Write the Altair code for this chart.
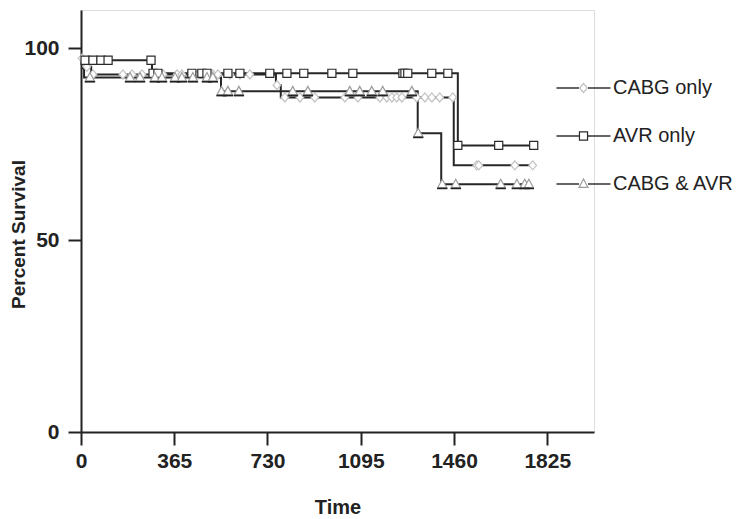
import altair as alt
import pandas as pd

ORDER = ["CABG only", "AVR only", "CABG & AVR"]
LINE_KEYS = ["L1", "L2", "L3"]

# Kaplan-Meier step curves: time of each step (days) and survival (%) from it
cabg_t = [0, 20, 40, 763, 782, 1459, 1768]
cabg_s = [97.4, 95.2, 93.2, 90.4, 87.2, 69.5, 69.5]
avr_t = [0, 278, 1475, 1784]
avr_s = [96.9, 93.5, 74.7, 74.7]
both_t = [0, 12, 548, 1318, 1410, 1760]
both_s = [94.8, 92.4, 88.8, 77.9, 64.6, 64.6]

# censored observations (days)
cabg_cens = [4, 23, 47, 164, 200, 239, 282, 321, 376, 395, 458, 493, 516, 536,
             583, 622, 661, 767, 798, 857, 915, 1033, 1084, 1170, 1197, 1217,
             1236, 1256, 1314, 1346, 1373, 1404, 1455, 1549, 1557, 1698, 1768]
avr_cens = [16, 47, 78, 106, 274, 282, 301, 434, 473, 493, 575, 622, 739, 806,
            872, 982, 1064, 1260, 1268, 1279, 1373, 1436, 1475, 1635, 1772]
both_cens = [35, 192, 231, 289, 317, 368, 395, 438, 493, 516, 550, 575, 618,
             829, 888, 1052, 1091, 1138, 1181, 1295, 1320, 1414, 1467, 1643,
             1706, 1737, 1753]

x_ticks = [0, 365, 730, 1095, 1460, 1825]
y_ticks = [0, 50, 100]

curves = {
    "CABG only": (cabg_t, cabg_s, cabg_cens),
    "AVR only": (avr_t, avr_s, avr_cens),
    "CABG & AVR": (both_t, both_s, both_cens),
}


def level(ts, ss, t):
    v = ss[0]
    for ti, si in zip(ts, ss):
        if ti <= t:
            v = si
    return v


line_rows, cens_rows = [], []
for key, (name, (ts, ss, cs)) in zip(LINE_KEYS, curves.items()):
    for ti, si in zip(ts, ss):
        line_rows.append({"series": name, "key": key, "t": ti, "s": si})
    for c in cs:
        cens_rows.append({"series": name, "t": c, "s": level(ts, ss, c)})
line_df = pd.DataFrame(line_rows)
cens_df = pd.DataFrame(cens_rows)
tri_df = cens_df[cens_df.series == "CABG & AVR"]

DIAMOND = "M0,-1L0.85,0L0,1L-0.85,0Z"
SQUARE = "M-0.9,-0.9H0.9V0.9H-0.9Z"
TRIANGLE = "M0,-1.1L1,0.75L-1,0.75Z"
BAR = "M-1.15,0.95H1.15"
LEG_LINE = "M-6,0H-1.0M1.0,0H6"

FONT = "Liberation Sans"
INK = "#222222"

LEG_X, LEG_Y = 492.5, 68
common_leg = dict(orient="none", legendX=LEG_X, legendY=LEG_Y, title=None,
                  symbolSize=81, labelFont=FONT, labelFontSize=20,
                  labelColor=INK, labelOffset=19.5, rowPadding=28, padding=0,
                  symbolOffset=0)

xenc = alt.X("t:Q", title="Time",
             scale=alt.Scale(domain=[0, 2008], nice=False, zero=False),
             axis=alt.Axis(values=x_ticks, format="d", grid=False,
                           labelFlush=False,
                           domainColor=INK, domainWidth=2, tickColor=INK,
                           tickWidth=2, tickSize=13, labelFont=FONT,
                           labelFontSize=21, labelFontWeight="bold",
                           labelColor=INK, labelPadding=5, titleFont=FONT,
                           titleFontSize=20, titleFontWeight="bold",
                           titleColor=INK, titlePadding=26))
yenc = alt.Y("s:Q", title="Percent Survival",
             scale=alt.Scale(domain=[0, 110], nice=False),
             axis=alt.Axis(values=y_ticks, format="d", grid=False,
                           labelFlush=False,
                           domainColor=INK, domainWidth=2, tickColor=INK,
                           tickWidth=2, tickSize=13, labelFont=FONT,
                           labelFontSize=21, labelFontWeight="bold",
                           labelColor=INK, labelPadding=9, titleFont=FONT,
                           titleFontSize=19, titleFontWeight="bold",
                           titleColor=INK, titleX=-63, titleY=224,
                           titleAngle=270, titleBaseline="middle",
                           titleAlign="center"))

lines = alt.Chart(line_df).mark_line(
    interpolate="step-after", color="#262626", strokeWidth=2
).encode(
    x=xenc, y=yenc,
    strokeDash=alt.StrokeDash(
        "key:N",
        scale=alt.Scale(domain=LINE_KEYS, range=[[1, 0], [1, 0], [1, 0]]),
        legend=alt.Legend(symbolType=LEG_LINE, symbolStrokeWidth=1.6,
                          symbolStrokeColor="#333333", labelExpr="''",
                          **common_leg)),
)

pts = alt.Chart(cens_df).mark_point(
    filled=False, fill="white", size=81, strokeWidth=1.2, opacity=1
).encode(
    x="t:Q", y="s:Q",
    shape=alt.Shape("series:N",
                    scale=alt.Scale(domain=ORDER,
                                    range=[DIAMOND, SQUARE, TRIANGLE]),
                    legend=alt.Legend(symbolFillColor="white",
                                      symbolStrokeWidth=1.2, **common_leg)),
    color=alt.Color("series:N",
                    scale=alt.Scale(domain=ORDER,
                                    range=["#c2c2c2", "#2a2a2a", "#9c9c9c"]),
                    legend=alt.Legend(symbolFillColor="white",
                                      symbolStrokeWidth=1.2, **common_leg)),
)

bars = alt.Chart(tri_df).mark_point(
    shape=BAR, size=81, filled=False, stroke="#222222", strokeWidth=1.6,
    opacity=1
).encode(x="t:Q", y="s:Q")

chart = alt.layer(lines, pts, bars).properties(
    width=513, height=422,
    padding={"left": 73, "top": 2, "right": 143, "bottom": 86},
    autosize=alt.AutoSizeParams(type="none"),
).configure_view(stroke=None).configure(background="white")

chart.save("out.html", embed_options={"renderer": "svg", "actions": False})
